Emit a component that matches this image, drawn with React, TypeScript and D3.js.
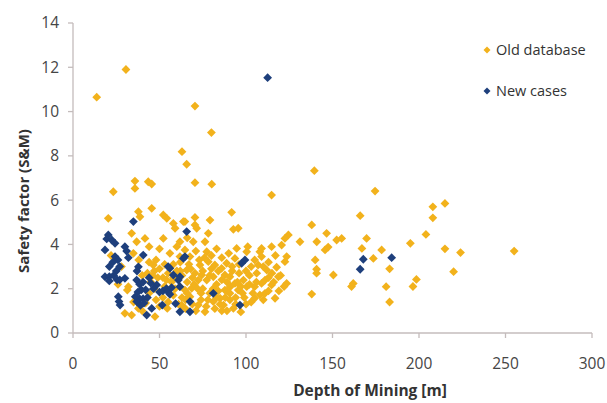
import React from "react";
import * as d3 from "d3";

// Depth of mining [m] vs. safety factor (S&M)
const oldDatabase: [number, number][] = [
  [13.7, 10.65], [30.6, 11.9], [70.5, 10.25], [80, 9.05], [63, 8.19], [65.7, 7.62],
  [70.5, 6.79], [80.2, 6.72], [35.8, 6.86], [35.8, 6.53], [43.5, 6.83], [45.5, 6.73],
  [23.3, 6.38], [139.5, 7.33], [114.8, 6.23], [174.6, 6.41], [166, 5.3],
  [208, 5.7], [215, 5.85], [208, 5.2], [204, 4.45], [195, 4.05], [215, 3.8], [224, 3.63],
  [255, 3.7], [220, 2.77], [198.5, 2.42], [196.5, 2.1], [183, 2.9], [181, 2.09], [183, 1.4],
  [91.7, 5.45], [64.7, 5.03], [70.5, 5.22], [70.5, 4.88], [79.2, 5.1], [92.7, 4.68], [95.5, 4.73],
  [69.5, 4.12], [78.2, 4.5], [76.3, 4.12], [138, 4.88], [146.6, 4.5], [152.4, 4.2], [155.3, 4.27],
  [140.9, 4.12], [145.7, 3.75], [147.5, 3.88], [169.7, 4.27], [167, 3.82], [178.4, 3.75],
  [173.6, 3.37], [140, 3.3], [140.8, 2.88], [140.8, 2.7], [150.5, 2.62], [162, 2.24], [161, 2.1],
  [138, 1.76], [131.2, 4.12], [124.5, 4.43], [122.5, 4.27], [120.6, 3.97], [114.8, 3.9],
  [109, 3.82], [108, 3.67], [109, 3.45], [123.5, 3.45], [122.5, 3.22], [117.7, 2.97], [107, 3.07],
  [112, 2.84], [106.2, 2.7], [118.7, 2.54], [123.5, 2.24], [122, 2.1], [114.8, 2.17], [109, 2.24],
  [105, 2.09], [116.8, 1.57], [108, 1.72], [105, 1.57], [93.6, 3.37], [94.6, 3.82], [100.4, 3.67],
  [88.8, 3.15], [85.9, 2.92], [82, 3.07], [78.2, 3.22], [73.4, 3.07], [67.6, 3.45], [77.3, 3.67],
  [64.7, 3.75], [65.7, 2.84], [70.5, 2.7], [74.4, 2.62], [72.4, 2.39], [77.3, 2.39], [81.1, 2.54],
  [87.8, 2.62], [90.7, 2.54], [93.6, 2.24], [98.5, 2.39], [100.4, 2.09], [95.5, 1.94], [90.7, 1.79],
  [87.8, 1.94], [85, 1.57], [90.7, 1.5], [92.7, 1.11], [87, 1.26], [81.1, 1.42], [76.3, 0.96],
  [72.4, 1.26], [67.6, 1.64], [68.6, 2.02], [64.7, 1.94], [61.8, 2.09], [62.8, 1.26], [111, 1.79],
  [111, 2.39],
  [75, 2.0], [79, 1.8], [83, 2.2], [84, 2.8], [86, 3.4], [89, 2.3], [96, 2.7], [97, 2.1],
  [102, 2.6], [103, 1.4], [99, 1.6], [80, 2.9], [76, 3.4], [82, 1.1], [78, 1.5], [74, 1.8],
  [70, 2.2], [69, 2.5], [73, 3.3], [71, 3.7], [84, 1.9], [94, 1.6], [103, 3.0], [101, 3.9],
  [105, 3.3], [110, 3.0], [113, 2.5], [116, 2.3], [119, 1.9], [106, 2.3], [104, 1.8], [97, 0.95],
  [89, 1.0], [85, 1.3],
  [66, 1.8], [68, 2.9], [72, 2.0], [75, 2.8], [77, 1.2], [79, 2.6], [81, 2.0], [83, 1.6],
  [86, 2.4], [88, 1.6], [91, 2.1], [92, 2.8], [95, 2.3], [98, 1.8], [100, 2.8], [102, 2.2],
  [86, 1.0], [74, 1.5], [71, 1.0], [62, 2.8], [67, 3.1], [80, 3.5], [83, 3.8], [90, 3.6],
  [92, 3.0], [96, 3.1], [89, 1.9], [94, 1.3], [100, 1.3], [58, 2.5], [54, 2.4], [49, 2.5],
  [44, 3.2], [47, 2.8], [53, 3.1], [62, 3.2], [65, 1.5], [69, 1.3], [117, 3.5], [113, 3.2],
  [115, 2.7], [120, 2.6], [110, 1.5], [113, 1.9],
  [20.4, 5.18], [37.8, 5.48], [38.7, 5.25], [45.5, 5.63], [52.2, 5.33], [54.2, 5.18], [58, 4.95],
  [63.8, 5.03], [59, 4.73], [71.5, 4.73], [33.9, 4.5], [36.8, 4.12], [41.6, 4.27], [61.8, 4.12],
  [52.2, 4.27], [34.9, 3.6], [46.4, 3.07], [61.8, 3.45], [32, 2.09], [31.4, 1.94], [30, 0.89],
  [33.9, 0.81], [47.4, 0.74], [37.8, 1.11], [54.5, 1.11],
  [43, 2.7], [46, 2.6], [50, 2.9], [52, 2.5], [55, 2.7], [48, 3.3], [58, 3.1], [60, 2.8],
  [63, 2.6], [57, 2.3], [52, 1.6], [55, 1.4], [58, 1.7], [48, 1.5], [44, 1.8], [40, 2.6],
  [38, 3.3], [56, 3.6], [60, 3.9], [66, 4.3], [44, 3.9], [50, 3.8], [28, 3.0], [22, 3.5],
  [26, 2.2], [35, 1.4], [40, 1.0], [42, 1.35], [63, 1.6], [65, 1.1], [59, 2.0], [61, 1.3],
  [66, 2.3], [50, 1.2], [47, 2.0], [53, 2.1], [45, 2.3],
];

const newCases: [number, number][] = [
  [112.5, 11.53], [34.9, 5.03], [65.7, 4.58], [63.8, 3.37], [61.8, 2.54], [99.4, 3.3],
  [97.5, 3.15], [81.1, 1.79], [96.5, 1.26], [67.6, 0.96], [166, 2.88], [167.8, 3.33],
  [184.2, 3.4], [20.4, 4.43], [19.5, 4.25], [22.4, 4.2], [24.3, 4.05], [18.5, 3.75],
  [24.3, 3.45], [26, 3.3], [23, 3.2], [21, 3.0], [27, 3.0], [25, 2.8], [31, 3.7], [32, 3.4],
  [30, 3.9], [40.6, 3.52], [37.8, 2.99], [37, 2.8], [56, 2.92], [55, 3.0], [58, 2.62],
  [64.7, 3.45], [18.5, 2.54], [21, 2.55], [23.5, 2.6], [25.5, 2.4], [21, 2.35], [27, 2.4],
  [30, 2.47], [36.8, 2.39], [38.5, 2.2], [40.5, 2.3], [39.5, 1.95], [37.5, 1.85], [42, 1.95],
  [43, 1.6], [40.5, 1.55], [38.5, 1.55], [48.4, 2.17], [46.5, 2.0], [50, 1.85], [52, 1.9],
  [54, 2.0], [55, 1.85], [57, 2.05], [56, 1.75], [60.9, 2.39], [61.8, 2.09], [26.2, 1.64],
  [26.6, 1.42], [27.2, 1.26], [36.8, 1.42], [36, 1.64], [39, 1.25], [41, 1.35], [42.6, 0.81],
  [45.5, 1.11], [51.6, 1.26], [59.3, 1.33], [61.8, 0.96], [67.6, 1.42], [45, 2.25], [44, 2.5],
];

const xTicks = [0, 50, 100, 150, 200, 250, 300];
const yTicks = [0, 2, 4, 6, 8, 10, 12, 14];
const seriesNames = ["Old database", "New cases"];
const seriesColors = ["#f2b21c", "#1e3f7c"];

const W = 607;
const H = 403;
const left = 73;
const right = 592;
const top = 23;
const bottom = 333;
const font = "'Open Sans', 'DejaVu Sans', sans-serif";
const axisColor = "#c4bcbc";
const textColor = "#454545";

const x = d3.scaleLinear().domain([0, 300]).range([left, right]);
const y = d3.scaleLinear().domain([0, 14]).range([bottom, top]);

const diamond = (r: number) => `M0,${-r}L${r},0L0,${r}L${-r},0Z`;

export default function App() {
  const series = [oldDatabase, newCases];
  return (
    <svg
      width={W}
      height={H}
      style={{ position: "absolute", left: 0, top: 0, background: "#fff" }}
      fontFamily={font}
    >
      <rect width={W} height={H} fill="#fff" />
      {/* axes */}
      <line x1={left} x2={left} y1={top} y2={bottom} stroke={axisColor} strokeWidth={1.3} />
      <line x1={left} x2={right} y1={bottom} y2={bottom} stroke={axisColor} strokeWidth={1.3} />
      {yTicks.map((t) => (
        <g key={`y${t}`}>
          <line x1={left - 5} x2={left} y1={y(t)} y2={y(t)} stroke={axisColor} strokeWidth={1.3} />
          <text x={left - 14} y={y(t)} dy="0.35em" textAnchor="end" fontSize={15.5} fill={textColor}>
            {t}
          </text>
        </g>
      ))}
      {xTicks.map((t) => (
        <g key={`x${t}`}>
          <line x1={x(t)} x2={x(t)} y1={bottom} y2={bottom + 5} stroke={axisColor} strokeWidth={1.3} />
          <text x={x(t)} y={bottom + 36} textAnchor="middle" fontSize={15.5} fill={textColor}>
            {t}
          </text>
        </g>
      ))}
      {/* axis titles */}
      <text
        transform={`translate(29,201) rotate(-90)`}
        textAnchor="middle"
        fontSize={15}
        fontWeight="bold"
        fill="#333"
      >
        Safety factor (S&amp;M)
      </text>
      <text x={370} y={396} textAnchor="middle" fontSize={15.5} fontWeight="bold" fill="#333">
        Depth of Mining [m]
      </text>
      {/* points */}
      {series.map((pts, si) => (
        <g key={seriesNames[si]} fill={seriesColors[si]}>
          {pts.map(([px, py], i) => (
            <path key={i} d={diamond(4.4)} transform={`translate(${x(px)},${y(py)})`} />
          ))}
        </g>
      ))}
      {/* legend */}
      {seriesNames.map((name, i) => (
        <g key={name} transform={`translate(487,${50 + i * 41})`}>
          <path d={diamond(3.5)} fill={seriesColors[i]} />
          <text x={9} dy="0.35em" fontSize={14.5} fill="#333">
            {name}
          </text>
        </g>
      ))}
    </svg>
  );
}
